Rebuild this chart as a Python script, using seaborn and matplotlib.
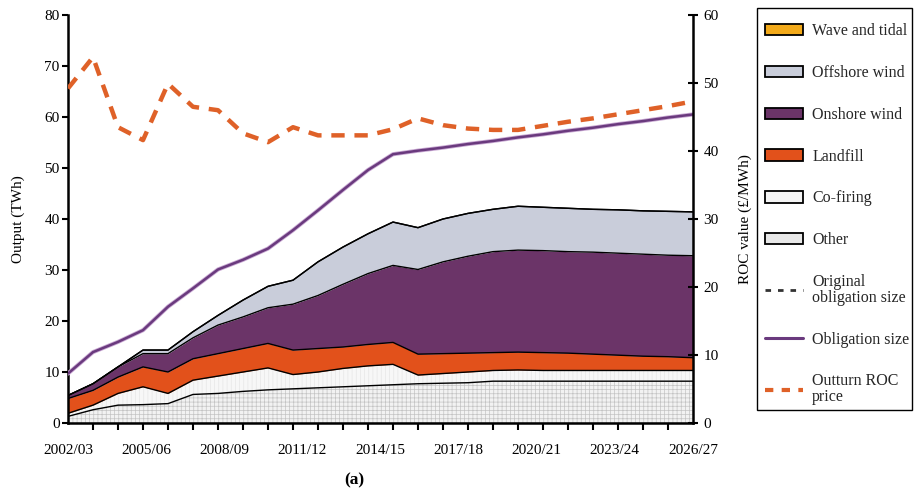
import numpy as np
import pandas as pd
import matplotlib
matplotlib.use("Agg")
import matplotlib.pyplot as plt
import matplotlib.patheffects as pe
from matplotlib.patches import Patch, Rectangle
from matplotlib.lines import Line2D
import seaborn as sns

# ---------------- data ----------------
tick_labels = ["2002/03", "2005/06", "2008/09", "2011/12", "2014/15",
               "2017/18", "2020/21", "2023/24", "2026/27"]

other    = [1.3, 2.6, 3.5, 3.6, 3.8, 5.6, 5.8, 6.2, 6.5, 6.7, 6.9, 7.1, 7.3,
            7.5, 7.7, 7.8, 7.9, 8.2, 8.2, 8.2, 8.2, 8.2, 8.2, 8.2, 8.2, 8.2]
cofiring = [0.6, 0.9, 2.3, 3.5, 2.0, 2.8, 3.4, 3.8, 4.3, 2.8, 3.1, 3.6, 3.9,
            4.0, 1.7, 1.9, 2.1, 2.1, 2.2, 2.1, 2.1, 2.1, 2.1, 2.1, 2.1, 2.1]
landfill = [2.9, 2.9, 3.2, 3.9, 4.2, 4.2, 4.4, 4.6, 4.8, 4.8, 4.6, 4.2, 4.2,
            4.3, 4.1, 3.9, 3.7, 3.5, 3.5, 3.5, 3.4, 3.2, 3.0, 2.8, 2.7, 2.5]
onshore  = [0.6, 1.3, 2.0, 2.6, 3.6, 4.1, 5.6, 6.2, 7.0, 9.0, 10.4, 12.3, 13.9,
            15.1, 16.6, 18.0, 19.0, 19.8, 20.0, 20.0, 19.9, 20.0, 20.0, 20.0, 19.9, 20.0]
offshore = [0.0, 0.0, 0.0, 0.7, 0.7, 1.2, 1.9, 3.3, 4.2, 4.7, 6.6, 7.3, 7.8,
            8.5, 8.2, 8.4, 8.4, 8.3, 8.6, 8.5, 8.5, 8.4, 8.5, 8.5, 8.6, 8.6]
wave     = [0.0, 0.0, 0.0, 0.0, 0.0, 0.0, 0.0, 0.0, 0.0, 0.0, 0.0, 0.0, 0.0,
            0.0, 0.0, 0.0, 0.0, 0.0, 0.0, 0.0, 0.0, 0.0, 0.0, 0.0, 0.0, 0.0]
obligation = [9.7, 13.9, 15.9, 18.2, 22.8, 26.4, 30.1, 32.0, 34.2, 37.8, 41.7, 45.7, 49.6,
              52.7, 53.4, 54.0, 54.7, 55.3, 56.0, 56.6, 57.3, 57.9, 58.6, 59.2, 59.9, 60.5]
roc_price = [49.2, 53.8, 43.5, 41.6, 49.9, 46.5, 46.0, 42.6, 41.3, 43.5, 42.3, 42.3, 42.3,
             43.2, 44.8, 43.8, 43.3, 43.1, 43.1, 43.7, 44.3, 44.8, 45.4, 46.0, 46.6, 47.3]

x = np.arange(len(other))
df = pd.DataFrame({"x": x, "Other": other, "Co-firing": cofiring, "Landfill": landfill,
                   "Onshore wind": onshore, "Offshore wind": offshore,
                   "Wave and tidal": wave, "Obligation": obligation, "ROC": roc_price})

# ---------------- style ----------------
sns.set_theme(style="white")
plt.rcParams["font.family"] = ["Liberation Serif", "DejaVu Serif"]
plt.rcParams["hatch.linewidth"] = 0.5

fig = plt.figure(figsize=(9.18, 4.92), dpi=100)
ax = fig.add_axes([68 / 918, 1 - 423 / 492, (693 - 68) / 918, (423 - 15) / 492])

layers = ["Other", "Co-firing", "Landfill", "Onshore wind", "Offshore wind", "Wave and tidal"]
face = {"Other": "#f2f2f2", "Co-firing": "#f7f7f7", "Landfill": "#e2511b",
        "Onshore wind": "#6b3468", "Offshore wind": "#c9cdda", "Wave and tidal": "#f3aa1a"}
hatch = {"Other": "++++", "Co-firing": "||||", "Landfill": None,
         "Onshore wind": None, "Offshore wind": None, "Wave and tidal": None}
hatch_col = {"Other": "#c4c4c4", "Co-firing": "#e6e6e6"}

cum = np.zeros(len(x))
for name in layers:
    top = cum + df[name].to_numpy()
    ax.fill_between(df["x"], cum, top, facecolor=face[name], hatch=hatch[name],
                    edgecolor=hatch_col.get(name, face[name]), linewidth=0, zorder=1)
    sns.lineplot(x=df["x"], y=top, ax=ax, color="black", lw=1.0, zorder=2)
    cum = top

sns.lineplot(data=df, x="x", y="Obligation", ax=ax, color="#6a3a7e", lw=1.8, zorder=3)
ax.lines[-1].set_path_effects([pe.Stroke(linewidth=3.0, foreground="#c9a9d3"), pe.Normal()])

ax.set_xlim(0, 25)
ax.set_ylim(0, 80)
ax.set_yticks(range(0, 81, 10))
ax.set_xticks(np.arange(26), minor=True)
ax.set_xticks(np.linspace(0, 25, len(tick_labels)))
ax.set_xticklabels(tick_labels)
ax.tick_params(axis="x", which="major", length=0, pad=15, labelsize=11, colors="black")
ax.tick_params(axis="x", which="minor", direction="out", length=5, width=1.5, color="black", bottom=True)
ax.tick_params(axis="y", direction="out", length=4, width=1.5, labelsize=11, pad=2,
               colors="black", left=True)
ax.set_xlabel("")
ax.set_ylabel("Output (TWh)", fontsize=11, color="black", labelpad=14)

ax2 = ax.twinx()
sns.lineplot(data=df, x="x", y="ROC", ax=ax2, color="#df6128", lw=3.2)
ax2.lines[-1].set_linestyle((0, (3, 2.2)))
ax2.set_ylim(0, 60)
ax2.set_xlim(0, 25)
ax2.set_yticks(range(0, 61, 10))
ax2.tick_params(axis="y", direction="inout", length=7, width=1.5, labelsize=11, pad=4,
                colors="black", right=True)
ax2.set_ylabel("ROC value (£/MWh)", fontsize=11, color="black", labelpad=14)

for a in (ax, ax2):
    a.spines["top"].set_visible(False)
    for s in ("left", "bottom", "right"):
        a.spines[s].set_color("black")
        a.spines[s].set_linewidth(1.8)
ax.spines["right"].set_visible(False)
ax2.spines["left"].set_visible(False)
ax2.spines["bottom"].set_visible(False)

# ---------------- legend ----------------
handles = [
    Patch(facecolor=face["Wave and tidal"], edgecolor="black", lw=1.3),
    Patch(facecolor=face["Offshore wind"], edgecolor="black", lw=1.3),
    Patch(facecolor=face["Onshore wind"], edgecolor="black", lw=1.3),
    Patch(facecolor=face["Landfill"], edgecolor="black", lw=1.3),
    Patch(facecolor="#f4f4f4", edgecolor="black", lw=1.3),
    Patch(facecolor="#e8e8e8", edgecolor="black", lw=1.3),
    Line2D([], [], color="#333333", lw=2, ls=(0, (2, 2.5))),
    Line2D([], [], color="#6a3a7e", lw=2.2),
    Line2D([], [], color="#df6128", lw=3, ls=(0, (2, 2))),
]
labels = ["Wave and tidal", "Offshore wind", "Onshore wind", "Landfill", "Co-firing",
          "Other", "Original\nobligation size", "Obligation size", "Outturn ROC\nprice"]
leg = fig.legend(handles, labels, loc="upper left", bbox_to_anchor=(765 / 918, 1 - 23 / 492),
                 frameon=False, fontsize=11.5,
                 handlelength=2.4, handleheight=0.7, handletextpad=0.55, labelspacing=1.62,
                 borderpad=0, borderaxespad=0)
for t in leg.get_texts():
    t.set_linespacing(0.95)
fig.add_artist(Rectangle((757 / 918, 1 - 410 / 492), 155 / 918, 402 / 492,
                         transform=fig.transFigure, fill=False, edgecolor="black", lw=1.0))

fig.text(354 / 918, 1 - 480 / 492, "(a)", ha="center", va="center", fontsize=12.5,
         fontweight="bold", color="black")

fig.savefig("out.png", dpi=100)
